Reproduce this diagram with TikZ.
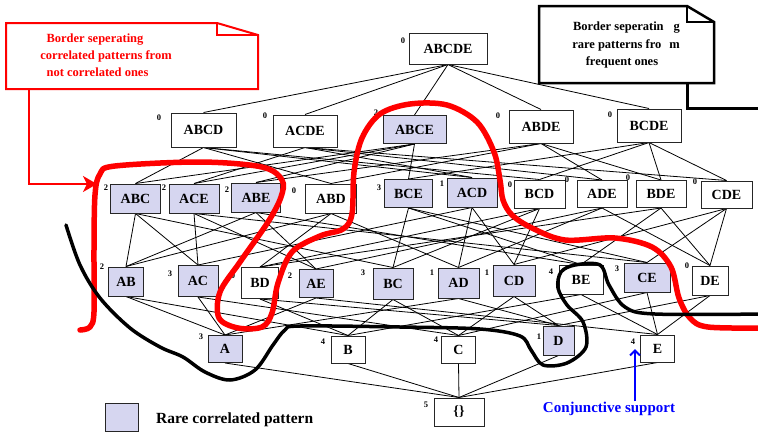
\documentclass[tikz,border=0pt]{standalone}
\usepackage{fontspec}
\setmainfont{Liberation Serif}
\usetikzlibrary{arrows.meta,backgrounds}
\definecolor{rarefill}{RGB}{214,214,240}
\begin{document}
\begin{tikzpicture}[x=1pt,y=-1pt,
  set/.style={draw=black!85, line width=1pt, fill=white, inner sep=0pt,
    minimum width=50, minimum height=29, font=\fontsize{14}{14}\selectfont\bfseries},
  rare/.style={set, fill=rarefill},
  sup/.style={inner sep=0pt, font=\fontsize{8.5}{8.5}\selectfont\bfseries},
  edge/.style={line width=0.8pt},
  note/.style={inner sep=0pt, anchor=base, font=\fontsize{12.5}{12.5}\selectfont\bfseries},
  redcurve/.style={red, line width=5.5pt, line cap=round, line join=round},
  blackcurve/.style={black, line width=3.5pt, line cap=round, line join=round}]
\useasboundingbox (0,0) rectangle (758,432);

% ---- lattice nodes ----
\node[set, minimum width=78, minimum height=31] (ABCDE) at (448,48.5) {ABCDE};

\node[set,  minimum width=65, minimum height=34] (ABCD) at (203.5,130) {ABCD};
\node[set,  minimum width=64, minimum height=32] (ACDE) at (305,131) {ACDE};
\node[rare, minimum width=63, minimum height=28] (ABCE) at (414.5,129.5) {ABCE};
\node[set,  minimum width=64, minimum height=33] (ABDE) at (541,126.5) {ABDE};
\node[set,  minimum width=64, minimum height=33] (BCDE) at (649,125.5) {BCDE};

\node[rare] (ABC) at (135.5,198.5) {ABC};
\node[rare] (ACE) at (194,198.5) {ACE};
\node[rare, minimum width=49] (ABE) at (256,197.5) {ABE};
\node[set, minimum width=51] (ABD) at (331,198.5) {ABD};
\node[rare, minimum width=48, minimum height=28] (BCE) at (408.5,193.5) {BCE};
\node[rare] (ACD) at (472,192.5) {ACD};
\node[set, minimum width=51, minimum height=28] (BCD) at (539.5,194) {BCD};
\node[set, minimum height=27] (ADE) at (602,194) {ADE};
\node[set, minimum height=27] (BDE) at (661,194) {BDE};
\node[set, minimum width=51, minimum height=27] (CDE) at (726.5,194.5) {CDE};

\node[rare, minimum width=35, minimum height=29] (AB) at (126,281.5) {AB};
\node[rare, minimum width=40, minimum height=31] (AC) at (198,281) {AC};
\node[set,  minimum width=37, minimum height=31] (BD) at (260,283) {BD};
\node[rare, minimum width=34, minimum height=28] (AE) at (316,283.5) {AE};
\node[rare, minimum width=40, minimum height=31] (BC) at (393,283.5) {BC};
\node[rare, minimum width=41, minimum height=30] (AD) at (458.5,283) {AD};
\node[rare, minimum width=42, minimum height=31] (CD) at (514,280.5) {CD};
\node[set,  minimum width=44, minimum height=29] (BE) at (581,279.5) {BE};
\node[rare, minimum width=46, minimum height=29] (CE) at (647,277.5) {CE};
\node[set,  minimum width=36, minimum height=29] (DE) at (710,280.5) {DE};

\node[rare, minimum width=34, minimum height=27] (A) at (225,349) {A};
\node[set,  minimum width=34, minimum height=27] (B) at (348,349.5) {B};
\node[set,  minimum width=34, minimum height=27] (C) at (458.5,349.5) {C};
\node[rare, minimum width=31, minimum height=29] (D) at (558.5,340.5) {D};
\node[set,  minimum width=34, minimum height=27] (E) at (657.5,348.5) {E};

\node[set, minimum width=50, minimum height=28] (empty) at (459,412) {\{\}};

% ---- support numbers ----
\node[sup] (sABCDE) at (403,41) {0};
\node[sup] (sABCD) at (159,118) {0};
\node[sup] (sACDE) at (265,116) {0};
\node[sup] (sABCE) at (376,113) {2};
\node[sup] (sABDE) at (498,116) {0};
\node[sup] (sBCDE) at (610,115) {0};
\node[sup] (sABC) at (106,188) {2};
\node[sup] (sACE) at (164,188) {2};
\node[sup] (sABE) at (227,190) {2};
\node[sup] (sABD) at (294,191) {0};
\node[sup] (sBCE) at (379,188) {3};
\node[sup] (sACD) at (442,184) {1};
\node[sup] (sBCD) at (510,185) {0};
\node[sup] (sADE) at (567,180) {0};
\node[sup] (sBDE) at (628,178) {0};
\node[sup] (sCDE) at (695,182) {0};
\node[sup] (sAB) at (102,267) {2};
\node[sup] (sAC) at (170,274) {3};
\node[sup] (sBD) at (233,276) {0};
\node[sup] (sAE) at (290,276) {2};
\node[sup] (sBC) at (363,273) {3};
\node[sup] (sAD) at (432,273) {1};
\node[sup] (sCD) at (487,273) {1};
\node[sup] (sBE) at (551,272) {4};
\node[sup] (sCE) at (617,269) {3};
\node[sup] (sDE) at (687,266) {0};
\node[sup] (sA) at (201,337) {3};
\node[sup] (sB) at (323,342) {4};
\node[sup] (sC) at (436,340) {4};
\node[sup] (sD) at (539,337) {1};
\node[sup] (sE) at (633,342) {4};
\node[sup] (sempty) at (426,405) {5};

% ---- lattice edges ----
\begin{scope}[on background layer]
\fill[white] (0,0) rectangle (758,432);
\foreach \p/\c in {ABCDE/ABCD, ABCDE/ACDE, ABCDE/ABCE, ABCDE/ABDE, ABCDE/BCDE,
  ABCD/ABC, ABCD/ABD, ABCD/ACD, ABCD/BCD,
  ACDE/ACD, ACDE/ACE, ACDE/ADE, ACDE/CDE,
  ABCE/ABC, ABCE/ABE, ABCE/ACE, ABCE/BCE,
  ABDE/ABD, ABDE/ABE, ABDE/ADE, ABDE/BDE,
  BCDE/BCD, BCDE/BCE, BCDE/BDE, BCDE/CDE,
  ABC/AB, ABC/AC, ABC/BC, ACE/AC, ACE/AE, ACE/CE,
  ABE/AB, ABE/AE, ABE/BE, ABD/AB, ABD/AD, ABD/BD,
  BCE/BC, BCE/BE, BCE/CE, ACD/AC, ACD/AD, ACD/CD,
  BCD/BC, BCD/BD, BCD/CD, ADE/AD, ADE/AE, ADE/DE,
  BDE/BD, BDE/BE, BDE/DE, CDE/CD, CDE/CE, CDE/DE,
  AB/A, AB/B, AC/A, AC/C, BD/B, BD/D, AE/A, AE/E, BC/B, BC/C,
  AD/A, AD/D, CD/C, CD/D, BE/B, BE/E, CE/C, CE/E, DE/D, DE/E,
  A/empty, B/empty, C/empty, D/empty, E/empty}
  \draw[edge] (\p.south) -- (\c.north);
\end{scope}

% ---- borders ----
\draw[redcurve] plot[smooth, tension=0.55] coordinates {(80,330) (90,327) (94,312) (94,250) (95,195) (100,174) (115,166) (200,162) (262,167) (282,180) (281,197) (268,222) (240,262) (220,292) (219,318) (238,328) (262,327) (272,313) (278,283) (292,252) (320,236) (343,229) (352,214) (354,172) (362,138) (380,114) (410,104) (447,105) (477,122) (494,152) (500,180) (503,200) (512,215) (532,228) (565,240) (615,238) (652,247) (671,267) (679,298) (690,318) (708,327) (765,328)};

\draw[blackcurve] plot[smooth, tension=0.55] coordinates {(66,225) (80,265) (100,298) (130,328) (160,347) (183,357) (205,372) (230,380) (255,370) (273,345) (285,330) (300,326) (400,327) (480,329) (520,336) (531,350) (543,365) (567,363) (586,347) (583,322) (567,305) (558,288) (561,272) (575,265) (600,265) (609,285) (625,307) (655,314) (765,314)};

% ---- red callout ----
\draw[red, line width=2pt, fill=white, line join=miter] (6,23) -- (217,23) -- (258,35) -- (258,89) -- (6,89) -- cycle;
\draw[red, line width=2pt] (217,23) -- (217,35) -- (258,35);
\node[note, text=red] (r1) at (95,42) {Border seperating};
\node[note, text=red] (r2) at (106,59) {correlated patterns from};
\node[note, text=red] (r3) at (97.5,76) {not correlated ones};
\coordinate (rfoot) at (29,89);
\coordinate (rtip) at (97,184);
\draw[red, line width=2pt, -{Stealth[length=14pt,width=16pt,inset=4pt]}] (rfoot) |- (rtip);

% ---- black callout ----
\draw[line width=2.5pt, fill=white, line join=miter] (539,6) -- (687,6) -- (714,22) -- (714,83) -- (539,83) -- cycle;
\draw[line width=2.5pt] (687,6) -- (687,22) -- (714,22);
\node[note] (b1) at (626.5,30) {Border seperatin\hspace{10pt}g};
\node[note] (b2) at (626,48) {rare patterns fro\hspace{8pt}m};
\node[note] (b3) at (622,65) {frequent ones};
\coordinate (bfoot) at (687,83);
\coordinate (bend) at (765,108);
\draw[line width=3pt] (bfoot) |- (bend);

% ---- conjunctive support ----
\node[inner sep=0pt, anchor=base, text=blue, font=\fontsize{15}{15}\selectfont\bfseries] (conj) at (609,412) {Conjunctive support};
\coordinate (atip) at (635,349);
\draw[blue, line width=2pt, -{Straight Barb[length=5pt,width=10pt]}] (conj.north -| atip) -- (atip);

% ---- legend ----
\node[rare, minimum width=33, minimum height=28] (leg) at (121.5,417) {};
\node[inner sep=0pt, anchor=base west, font=\fontsize{15.5}{15.5}\selectfont\bfseries] (legtext) at (156,423) {Rare correlated pattern};
\end{tikzpicture}
\end{document}
